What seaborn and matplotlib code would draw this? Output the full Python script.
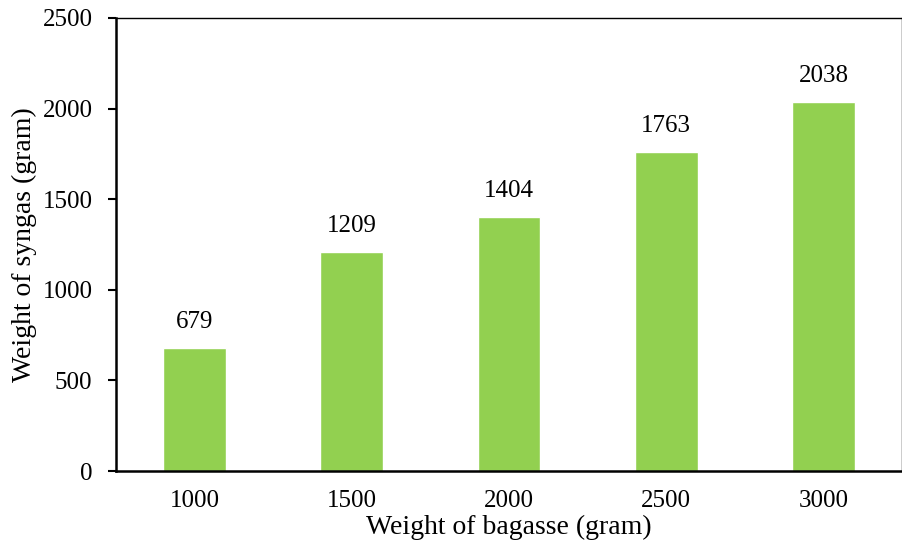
import matplotlib
matplotlib.use("Agg")
import matplotlib.pyplot as plt
import seaborn as sns
import pandas as pd

# data
bagasse = ["1000", "1500", "2000", "2500", "3000"]
syngas = [679, 1209, 1404, 1763, 2038]

sns.set_style("white")
plt.rcParams['font.family'] = ['Liberation Serif', 'DejaVu Serif']
plt.rcParams['text.color'] = 'black'
plt.rcParams['axes.labelcolor'] = 'black'
plt.rcParams['xtick.color'] = 'black'
plt.rcParams['ytick.color'] = 'black'

df = pd.DataFrame({"bagasse": bagasse, "syngas": syngas})

fig = plt.figure(figsize=(9.03, 5.52), dpi=100)
ax = fig.add_axes([116/903, 1 - 471/552, (902 - 116)/903, (471 - 18)/552])

sns.barplot(data=df, x="bagasse", y="syngas", color="#92D050", width=0.4,
            saturation=1, ax=ax)

for i, v in enumerate(syngas):
    ax.text(i, v + 80, str(v), ha="center", va="bottom", fontsize=18)

ax.set_ylim(0, 2500)
ax.set_yticks([0, 500, 1000, 1500, 2000, 2500])
ax.set_xlim(-0.5, 4.5)
ax.tick_params(axis="y", direction="out", length=6, width=1.5, labelsize=18, pad=11, left=True)
ax.tick_params(axis="x", length=0, labelsize=18, pad=14)

for s in ["left", "bottom"]:
    ax.spines[s].set_linewidth(1.8)
for s in ["top", "right"]:
    ax.spines[s].set_linewidth(1.0)
for s in ax.spines.values():
    s.set_color("black")

ax.set_xlabel("Weight of bagasse (gram)", fontsize=20, labelpad=2)
ax.set_ylabel("Weight of syngas (gram)", fontsize=20, labelpad=4)

fig.savefig("out.png", dpi=100)
